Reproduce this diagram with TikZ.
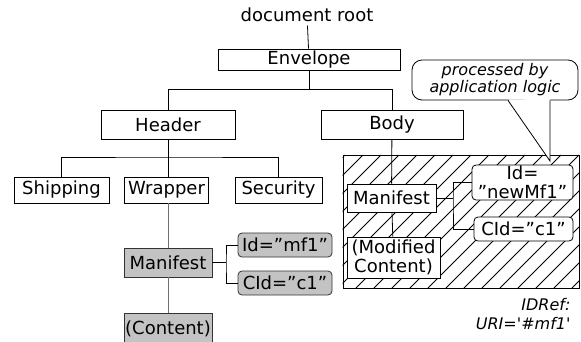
\documentclass[tikz,border=0pt]{standalone}
\usepackage{fontspec}
\newfontfamily\dejavu{DejaVu Sans}
\usetikzlibrary{shapes,arrows}
\definecolor{mfgray}{HTML}{C3C3C3}
\definecolor{linegray}{HTML}{707070}
\begin{document}
\begin{tikzpicture}[x=1pt,y=-1pt,font=\dejavu\fontsize{18}{19}\selectfont]
      \tikzstyle{point} = [coordinate]
      \tikzstyle{wire} = [line width=0.8pt]
      \tikzstyle{box} = [rectangle, draw, wire, inner sep=0pt, fill=white]
      \tikzstyle{attr} = [box, rounded corners=4pt]
      \tikzstyle{grey} = [fill=mfgray, draw=black!80]
      \tikzstyle{note} = [font=\dejavu\itshape\fontsize{16}{17}\selectfont, align=center]
      \useasboundingbox (0,0) rectangle (581,341);
      % top of the tree
      \node (root) at (307,15) {document root};
      \node (env) [box, minimum width=182pt, minimum height=21pt] at (309,59.5) {Envelope};
      \node (hdr) [box, minimum width=134pt, minimum height=29pt] at (168,124.5) {Header};
      \node (body) [box, minimum width=142pt, minimum height=29pt] at (392,124.5) {Body};
      \node (j1) [point] at (309,89.5) {};
      % header row
      \node (ship) [box, minimum width=95pt, minimum height=26pt] at (61.5,190) {Shipping};
      \node (wrap) [box, minimum width=84pt, minimum height=26pt] at (166.5,190) {Wrapper};
      \node (sec) [box, minimum width=87pt, minimum height=26pt] at (278.5,190) {Security};
      \node (j2) [point] at (168,157) {};
      % original manifest
      \node (man) [box, grey, minimum width=88pt, minimum height=29pt] at (168,262.5) {Manifest};
      \node (idmf) [attr, grey, minimum width=94pt, minimum height=24pt] at (285,245) {Id=”mf1”};
      \node (cid) [attr, grey, minimum width=94pt, minimum height=24pt] at (285,283) {CId=”c1”};
      \node (cont) [box, grey, minimum width=88pt, minimum height=32pt] at (168,329) {(Content)};
      \node (j3) [point] at (226,262.5) {};
      % hatched body part
      \node (hatch) [draw, wire, minimum width=236pt, minimum height=133pt] at (461,221.5) {};
      \begin{scope}
        \clip (hatch.south west) rectangle (hatch.north east);
        \foreach \x in {212,230,...,580}
          \draw [wire] (\x,288) -- ++(133,-133);
      \end{scope}
      \node (man2) [box, minimum width=89pt, minimum height=28pt] at (391.5,198) {Manifest};
      \node (modc) [box, align=center, minimum width=93pt, minimum height=41pt] at (393.5,257.5) {(Modified\\Content)};
      \node (idnew) [attr, align=center, minimum width=101pt, minimum height=35pt] at (522.5,182.5) {Id=\\”newMf1”};
      \node (cid2) [attr, minimum width=99pt, minimum height=24pt] at (523.5,229) {CId=”c1”};
      \node (j4) [point] at (453,198) {};
      % callout
      \node (bubble) [box, note, rounded corners=10pt, minimum width=166pt, minimum height=40pt] at (495,80) {processed by\\application logic};
      \node (tip) [point] at (550,161) {};
      \node (idref) [note, align=right, anchor=east, font=\dejavu\itshape\fontsize{16}{19}\selectfont] at (574,314) {IDRef:\\URI='\#mf1'};
      % connectors
      \draw [wire] (root)--(env);
      \draw [wire] (env)--(j1);
      \draw [wire] (hdr.north) |- (j1) -| (body.north);
      \draw [wire] (hdr)--(j2);
      \draw [wire] (ship.north) |- (j2) -| (sec.north);
      \draw [wire] (j2)--(wrap.north -| j2);
      \draw [wire, linegray] (wrap.south -| man)--(man);
      \draw [wire, linegray] (man)--(cont);
      \draw [wire] (man)--(j3);
      \draw [wire] (idmf.west) -| (j3) |- (cid.west);
      \draw [wire] (body)--(man2);
      \draw [wire] (man2)--(modc);
      \draw [wire] (man2)--(j4);
      \draw [wire] (idnew.west) -| (j4) |- (cid2.west);
      \fill [white] (bubble.south -| 508.5,0) ++(0,-1) -- (tip) -- ++(0,-62);
      \draw [wire] (bubble.south -| 508,0) -- (tip) -- (bubble.south -| 550,0);
\end{tikzpicture}
\end{document}
